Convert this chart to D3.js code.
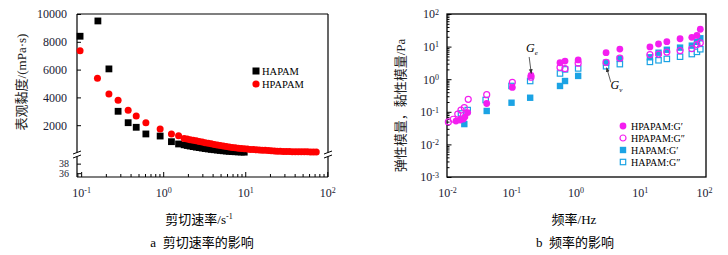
<!DOCTYPE html>
<html>
<head>
<meta charset="utf-8">
<script src="https://cdn.jsdelivr.net/npm/d3@7"></script>
<style>
  body { margin: 0; background: #fff; }
  text { font-family: "Liberation Serif", "Noto Sans CJK SC", serif; }
</style>
</head>
<body>
<script>
/* CONSTANTS AND GLOBALS */
const width = 728, height = 255

/* DATA - panel a: apparent viscosity vs shear rate */
const haRate = [0.097, 0.16, 0.218, 0.282, 0.374, 0.469, 0.615, 0.918, 1.26, 1.54,
  1.80, 1.96, 2.13, 2.32, 2.53, 2.75, 2.99, 3.25, 3.54, 3.85, 4.19, 4.56, 4.96, 5.40,
  5.87, 6.38, 6.94, 7.55, 8.22, 8.94, 9.72]
const haVisc = [8400, 9500, 6050, 3000, 2180, 1850, 1370, 1220, 815, 650,
  590, 540, 500, 460, 420, 390, 355, 320, 290, 260, 235, 210, 185, 160,
  140, 120, 105, 90, 80, 70, 60]

const hpRate = [0.097, 0.158, 0.218, 0.282, 0.374, 0.469, 0.615, 0.918, 1.26, 1.54,
  1.80, 1.96, 2.13, 2.32, 2.53, 2.75, 2.99, 3.25, 3.54, 3.85, 4.19, 4.56, 4.96, 5.40,
  5.87, 6.38, 6.94, 7.55, 8.22, 8.94, 9.72, 10.6, 11.5, 12.5, 13.6, 14.8, 16.1, 17.5,
  19.1, 20.7, 22.6, 24.5, 26.7, 29.1, 31.6, 34.4, 37.4, 40.7, 44.3, 48.2, 52.5, 57.0,
  62.1, 67.5, 73.4]
const hpVisc = [7360, 5370, 4240, 3790, 3070, 2660, 2180, 1730, 1370, 1250,
  1050, 1000, 950, 910, 880, 830, 790, 740, 700, 660, 620, 580, 540, 500,
  460, 430, 400, 370, 345, 320, 300, 280, 260, 245, 230, 215, 200, 190,
  175, 160, 145, 130, 120, 110, 105, 100, 95, 92, 90, 88, 85, 82,
  80, 78, 75]

const viscTicks = [2000, 4000, 6000, 8000, 10000]
const viscLowTicks = [36, 38]
const rateTicks = [0.1, 1, 10, 100]

/* DATA - panel b: moduli vs frequency */
const hpGpFreq = [0.0138, 0.016, 0.018, 0.019, 0.021, 0.0415, 0.104, 0.203, 0.574, 0.687,
  1.1, 2.99, 4.9, 14.4, 19.6, 26.4, 42.4, 64.6, 77.6, 87.6]
const hpGp = [0.052, 0.056, 0.06, 0.07, 0.095, 0.18, 0.56, 1.3, 3.2, 3.6,
  3.9, 6.5, 8.4, 9.8, 12, 14.2, 17.4, 19.3, 22, 34]

const hpGppFreq = [0.0105, 0.0125, 0.0147, 0.0165, 0.0186, 0.0214, 0.0415, 0.104, 0.203, 0.574,
  0.687, 1.1, 2.99, 4.9, 14.4, 19.6, 26.4, 42.4, 64.6, 77.6, 87.6]
const hpGpp = [0.049, 0.059, 0.085, 0.113, 0.134, 0.241, 0.335, 0.80, 1.15, 2.3,
  2.1, 3.1, 3.3, 4.4, 5.7, 5.9, 6.8, 7.5, 8.6, 11.5, 13]

const haGpFreq = [0.0186, 0.0415, 0.101, 0.197, 0.574, 0.687, 1.1, 2.99, 4.9, 14.4,
  19.6, 26.4, 42.4, 64.6, 77.6, 87.6]
const haGp = [0.042, 0.106, 0.19, 0.27, 0.62, 0.88, 1.26, 3.2, 4.2, 4.7,
  6.5, 8, 9.3, 10.7, 14, 18]

const haGppFreq = [0.0165, 0.021, 0.040, 0.101, 0.197, 0.574, 0.687, 1.1, 2.99, 4.9,
  14.4, 19.6, 26.4, 42.4, 64.6, 77.6, 87.6]
const haGpp = [0.089, 0.113, 0.23, 0.62, 0.88, 1.5, 2.0, 2.14, 2.5, 2.9,
  3.4, 3.8, 4.2, 4.9, 5.9, 6.9, 8.3]

const freqTicks = [0.01, 0.1, 1, 10, 100]
const modTicks = [0.001, 0.01, 0.1, 1, 10, 100]

const red = "#ff0000", magenta = "#f41ef0", blue = "#1ba3e4", labelCol = "#1a1a33"

const svg = d3.select("body")
  .append("svg")
  .attr("width", width)
  .attr("height", height)

// log minor ticks between decades
function minors(lo, hi) {
  const out = []
  for (let e = Math.floor(Math.log10(lo)); e < Math.log10(hi); e++) {
    for (let k = 2; k < 10; k++) {
      const v = k * Math.pow(10, e)
      if (v > lo && v < hi) out.push(v)
    }
  }
  return out
}

// "10" with superscript exponent
function powLabel(sel) {
  sel.each(function(d) {
    const t = d3.select(this)
    const e = Math.round(Math.log10(d))
    t.text(null)
    t.append("tspan").text("10")
    t.append("tspan").attr("dy", "-0.45em").attr("font-size", 8).text(e)
  })
}

/* ---------------- PANEL A ---------------- */
const a = { left: 77, right: 328, top: 14, bottom: 177, brk: 154.5 }

const xA = d3.scaleLog()
  .domain([0.089, 102])
  .range([a.left, a.right])

const yHigh = d3.scaleLinear()
  .domain([0, 10000])
  .range([153, a.top])

const yLow = d3.scaleLinear()
  .domain([35.2, 39.6])
  .range([a.bottom, 156])

const gA = svg.append("g")

// x axis (inward ticks)
gA.append("g")
  .attr("transform", `translate(0,${a.bottom})`)
  .call(d3.axisBottom(xA).tickValues(minors(0.089, 102)).tickSize(-3).tickFormat(""))
  .call(g => g.select(".domain").remove())
gA.append("g")
  .attr("class", "x-axis")
  .attr("transform", `translate(0,${a.bottom})`)
  .call(d3.axisBottom(xA).tickValues(rateTicks).tickSize(-5).tickPadding(11))
  .call(g => g.select(".domain").remove())
  .call(g => g.selectAll("text").attr("font-size", 12).attr("fill", labelCol).call(powLabel))

// y axis upper segment
gA.append("g")
  .attr("transform", `translate(${a.left},0)`)
  .call(d3.axisLeft(yHigh).tickValues(viscTicks).tickSize(-4).tickPadding(10).tickFormat(d3.format("d")))
  .call(g => g.select(".domain").remove())
  .call(g => g.selectAll("text").attr("font-size", 12).attr("fill", labelCol))

// y axis lower segment
gA.append("g")
  .attr("transform", `translate(${a.left},0)`)
  .call(d3.axisLeft(yLow).tickValues(viscLowTicks).tickSize(-4).tickPadding(8).tickFormat(d3.format("d")))
  .call(g => g.select(".domain").remove())
  .call(g => g.selectAll("text").attr("font-size", 10).attr("fill", labelCol))

// frame with broken side axes
const frame = [
  [a.left, a.top, a.right, a.top],
  [a.left, a.bottom, a.right, a.bottom],
  [a.left, a.top, a.left, a.brk - 2],
  [a.left, a.brk + 2, a.left, a.bottom],
  [a.right, a.top, a.right, a.brk - 2],
  [a.right, a.brk + 2, a.right, a.bottom]
]
gA.selectAll(".frame")
  .data(frame)
  .join("line")
  .attr("class", "frame")
  .attr("x1", d => d[0]).attr("y1", d => d[1])
  .attr("x2", d => d[2]).attr("y2", d => d[3])
  .attr("stroke", "#000")
  .attr("stroke-width", 1.2)

// break marks
const breaks = []
;[a.left, a.right].forEach(x => {
  breaks.push([x - 4, a.brk - 0.5, x + 4, a.brk - 3.5])
  breaks.push([x - 4, a.brk + 3.5, x + 4, a.brk + 0.5])
})
gA.selectAll(".brk")
  .data(breaks)
  .join("line")
  .attr("class", "brk")
  .attr("x1", d => d[0]).attr("y1", d => d[1])
  .attr("x2", d => d[2]).attr("y2", d => d[3])
  .attr("stroke", "#000")
  .attr("stroke-width", 1)

// data: HAPAM squares then HPAPAM circles
const haData = haRate.map((r, i) => ({ r, v: haVisc[i] }))
const hpData = hpRate.map((r, i) => ({ r, v: hpVisc[i] }))

gA.selectAll(".ha")
  .data(haData)
  .join("rect")
  .attr("class", "ha")
  .attr("x", d => xA(d.r) - 3.4)
  .attr("y", d => yHigh(d.v) - 3.4)
  .attr("width", 6.8)
  .attr("height", 6.8)
  .attr("fill", "#000")

gA.selectAll(".hp")
  .data(hpData)
  .join("circle")
  .attr("class", "hp")
  .attr("cx", d => xA(d.r))
  .attr("cy", d => yHigh(d.v))
  .attr("r", 3.5)
  .attr("fill", red)

// legend
const legA = gA.append("g").attr("transform", `translate(${a.left + 179},71)`)
legA.append("rect").attr("x", -3.5).attr("y", -3.5).attr("width", 7).attr("height", 7).attr("fill", "#000")
legA.append("text").attr("x", 6).attr("y", 3.5).attr("font-size", 10.5).text("HAPAM")
legA.append("circle").attr("cy", 13).attr("r", 3.6).attr("fill", red)
legA.append("text").attr("x", 6).attr("y", 16.5).attr("font-size", 10.5).text("HPAPAM")

// titles
gA.append("text")
  .attr("transform", `translate(26,${(a.top + 150) / 2}) rotate(-90)`)
  .attr("text-anchor", "middle")
  .attr("font-size", 13)
  .attr("fill", "#222")
  .text("表观黏度/(mPa·s)")

const xtA = gA.append("text")
  .attr("x", 199).attr("y", 224)
  .attr("text-anchor", "middle")
  .attr("font-size", 13)
xtA.append("tspan").text("剪切速率/s")
xtA.append("tspan").attr("dy", -5).attr("font-size", 8).text("-1")

gA.append("text")
  .attr("x", 202).attr("y", 247)
  .attr("text-anchor", "middle")
  .attr("font-size", 13)
  .attr("xml:space", "preserve")
  .text("a  剪切速率的影响")

/* ---------------- PANEL B ---------------- */
const b = { left: 447, right: 706, top: 14, bottom: 177 }

const xB = d3.scaleLog()
  .domain([0.01, 100])
  .range([b.left, b.right - 2])

const yB = d3.scaleLog()
  .domain([0.001, 100])
  .range([b.bottom, b.top])

const gB = svg.append("g")

gB.append("g")
  .attr("transform", `translate(0,${b.bottom})`)
  .call(d3.axisBottom(xB).tickValues(freqTicks).tickSize(0).tickPadding(11))
  .call(g => g.select(".domain").remove())
  .call(g => g.selectAll("text").attr("font-size", 12).attr("fill", labelCol).call(powLabel))

gB.append("g")
  .attr("transform", `translate(${b.left},0)`)
  .call(d3.axisLeft(yB).tickValues(minors(0.001, 100)).tickSize(-2.5).tickFormat(""))
  .call(g => g.select(".domain").remove())
gB.append("g")
  .attr("transform", `translate(${b.left},0)`)
  .call(d3.axisLeft(yB).tickValues(modTicks).tickSize(-4.5).tickPadding(8))
  .call(g => g.select(".domain").remove())
  .call(g => g.selectAll("text").attr("font-size", 12).attr("fill", labelCol).call(powLabel))

gB.append("rect")
  .attr("x", b.left).attr("y", b.top)
  .attr("width", b.right - b.left).attr("height", b.bottom - b.top)
  .attr("fill", "none")
  .attr("stroke", "#000")
  .attr("stroke-width", 1.3)

const pts = (fx, fy) => fx.map((f, i) => ({ f, v: fy[i] }))

// HAPAM G'' open squares
gB.selectAll(".haGpp")
  .data(pts(haGppFreq, haGpp))
  .join("rect")
  .attr("class", "haGpp")
  .attr("x", d => xB(d.f) - 2.7).attr("y", d => yB(d.v) - 2.7)
  .attr("width", 5.4).attr("height", 5.4)
  .attr("fill", "#fff").attr("stroke", blue).attr("stroke-width", 1.2)

// HAPAM G' filled squares
gB.selectAll(".haGp")
  .data(pts(haGpFreq, haGp))
  .join("rect")
  .attr("class", "haGp")
  .attr("x", d => xB(d.f) - 3.2).attr("y", d => yB(d.v) - 3.2)
  .attr("width", 6.4).attr("height", 6.4)
  .attr("fill", blue)

// HPAPAM G'' open circles
gB.selectAll(".hpGpp")
  .data(pts(hpGppFreq, hpGpp))
  .join("circle")
  .attr("class", "hpGpp")
  .attr("cx", d => xB(d.f)).attr("cy", d => yB(d.v))
  .attr("r", 3)
  .attr("fill", "none").attr("stroke", magenta).attr("stroke-width", 1.2)

// HPAPAM G' filled circles
gB.selectAll(".hpGp")
  .data(pts(hpGpFreq, hpGp))
  .join("circle")
  .attr("class", "hpGp")
  .attr("cx", d => xB(d.f)).attr("cy", d => yB(d.v))
  .attr("r", 3.4)
  .attr("fill", magenta)

// arrows + G labels
svg.append("defs").append("marker")
  .attr("id", "arr")
  .attr("viewBox", "0 0 10 10")
  .attr("refX", 9).attr("refY", 5)
  .attr("markerWidth", 6).attr("markerHeight", 6)
  .attr("orient", "auto")
  .append("path").attr("d", "M0,1L10,5L0,9Z").attr("fill", "#333")

const notes = [
  { tx: 0.17, ty: 6.8, x1: 0.19, y1: 4.8, x2: 0.205, y2: 1.5, sub: "e" },
  { tx: 3.5, ty: 0.5, x1: 3.55, y1: 0.8, x2: 3.05, y2: 2.25, sub: "v" }
]
notes.forEach(n => {
  gB.append("line")
    .attr("x1", xB(n.x1)).attr("y1", yB(n.y1))
    .attr("x2", xB(n.x2)).attr("y2", yB(n.y2))
    .attr("stroke", "#333").attr("stroke-width", 0.8)
    .attr("marker-end", "url(#arr)")
  const t = gB.append("text")
    .attr("x", xB(n.tx)).attr("y", yB(n.ty))
    .attr("font-size", 12).attr("font-style", "italic")
  t.append("tspan").text("G")
  t.append("tspan").attr("dy", 3).attr("font-size", 7).text(n.sub)
})

// legend
const legItems = [
  { label: "HPAPAM:G\u2032", shape: "circle", fill: magenta, stroke: "none" },
  { label: "HPAPAM:G\u2033", shape: "circle", fill: "none", stroke: magenta },
  { label: "HAPAM:G\u2032", shape: "rect", fill: blue, stroke: "none" },
  { label: "HAPAM:G\u2033", shape: "rect", fill: "#fff", stroke: blue }
]
const legB = gB.append("g").attr("transform", `translate(${b.left + 176},126)`)
legItems.forEach((d, i) => {
  const row = legB.append("g").attr("transform", `translate(0,${i * 12})`)
  if (d.shape === "circle") {
    row.append("circle").attr("r", d.fill === "none" ? 3 : 3.4)
      .attr("fill", d.fill).attr("stroke", d.stroke).attr("stroke-width", 1.2)
  } else {
    const s = d.fill === blue ? 6.4 : 5.4
    row.append("rect").attr("x", -s / 2).attr("y", -s / 2).attr("width", s).attr("height", s)
      .attr("fill", d.fill).attr("stroke", d.stroke).attr("stroke-width", 1.2)
  }
  row.append("text").attr("x", 8).attr("y", 3.5).attr("font-size", 10).text(d.label)
})

// titles
gB.append("text")
  .attr("transform", `translate(405,${(b.top + b.bottom) / 2 + 10}) rotate(-90)`)
  .attr("text-anchor", "middle")
  .attr("font-size", 13)
  .attr("fill", "#222")
  .text("弹性模量，黏性模量/Pa")

gB.append("text")
  .attr("x", 574).attr("y", 224)
  .attr("text-anchor", "middle")
  .attr("font-size", 13)
  .text("频率/Hz")

gB.append("text")
  .attr("x", 575).attr("y", 247)
  .attr("text-anchor", "middle")
  .attr("font-size", 13)
  .attr("xml:space", "preserve")
  .text("b  频率的影响")
</script>
</body>
</html>
